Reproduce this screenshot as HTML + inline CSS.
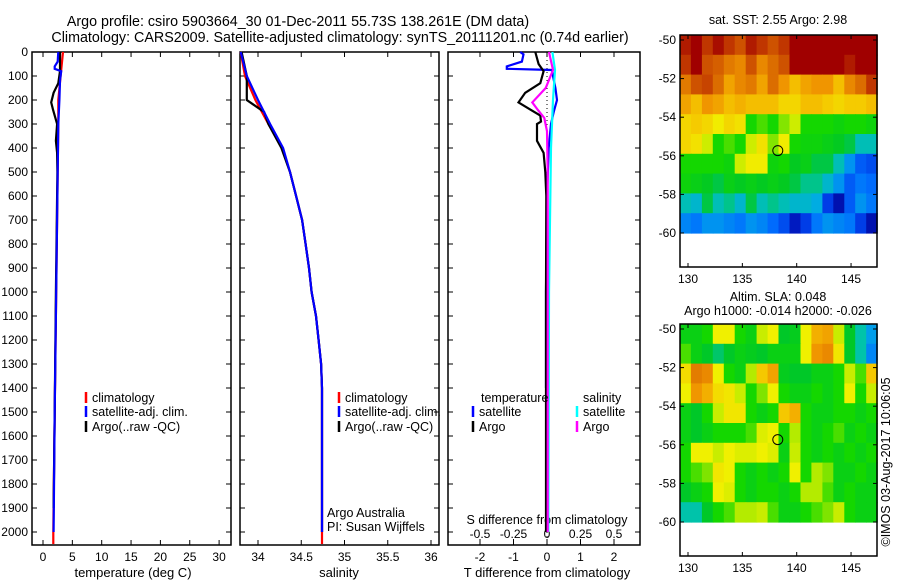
<!DOCTYPE html>
<html><head><meta charset="utf-8"><style>
body{margin:0;background:#fff;}
svg{display:block;font-family:"Liberation Sans",sans-serif;font-size:12px;}
.tt{font-size:14.3px;}
.at{font-size:13px;}
.lg{font-size:12.5px;}
</style></head><body>
<svg id="c" width="900" height="580" viewBox="0 0 900 580" xmlns="http://www.w3.org/2000/svg">
<rect width="900" height="580" fill="#fff"/>
<text class="tt" x="298" y="26" text-anchor="middle">Argo profile: csiro 5903664_30 01-Dec-2011 55.73S 138.261E (DM data)</text>
<text class="tt" x="340" y="42" text-anchor="middle">Climatology: CARS2009. Satellite-adjusted climatology: synTS_20111201.nc (0.74d earlier)</text>
<text class="lg" x="778" y="24" text-anchor="middle">sat. SST: 2.55 Argo: 2.98</text>
<text class="lg" x="778" y="301" text-anchor="middle">Altim. SLA: 0.048</text>
<text class="lg" x="778" y="315" text-anchor="middle">Argo h1000: -0.014 h2000: -0.026</text>
<text class="lg" transform="translate(890,462) rotate(-90)" text-anchor="middle">©IMOS 03-Aug-2017 10:06:05</text>
<g id="g"></g>
</svg>
<script>
// ---- data ----
const depthTicks=[0,100,200,300,400,500,600,700,800,900,1000,1100,1200,1300,1400,1500,1600,1700,1800,1900,2000];
const tempTicks=[0,5,10,15,20,25,30];
const salTicks=[34,34.5,35,35.5,36];
const tdTicks=[-2,-1,0,1,2];
const sdTicks=[-0.5,-0.25,0,0.25,0.5];
const tClimD=[0,100,200,300,500,1000,1500,2000,2050];
const tClimV=[3.4,3.0,2.6,2.6,2.5,2.25,2.0,1.75,1.75];
const tSatD=[0,40,60,70,80,120,200,300,500,1000,1500,2000];
const tSatV=[2.6,2.5,2.0,2.0,3.1,2.9,2.8,2.6,2.5,2.25,2.0,1.8];
const tArgoD=[0,80,130,170,210,240,300,370,420,500,1000,1500,1900];
const tArgoV=[2.9,2.9,2.6,1.8,1.4,1.7,2.4,2.2,2.4,2.45,2.2,2.0,1.8];
const sClimD=[0,100,200,300,400,500,600,700,800,900,1000,1100,1200,1300,1400,2050];
const sClimV=[33.8,33.85,33.97,34.12,34.28,34.37,34.44,34.51,34.55,34.59,34.62,34.67,34.7,34.73,34.74,34.74];
const sSatD=[0,100,200,300,400,500,600,700,800,900,1000,1100,1200,1300,1400,2000];
const sSatV=[33.8,33.87,34.0,34.14,34.29,34.37,34.44,34.51,34.55,34.59,34.62,34.67,34.7,34.73,34.74,34.74];
const sArgoD=[0,100,200,220,250,300,400,500,600,700,800,900,1000,1100,1200,1300,1400,2000];
const sArgoV=[33.81,33.87,33.87,33.95,34.07,34.12,34.27,34.37,34.44,34.51,34.55,34.59,34.62,34.67,34.7,34.73,34.74,34.74];
const dTSatD=[0,10,40,60,70,75,100,150,200,250,300,400,600,1000,1400];
const dTSatV=[-0.8,-0.7,-0.75,-1.2,-1.2,0.15,0.18,0.25,0.3,0.2,0.12,0.05,0.0,-0.03,-0.03];
const dTArgoD=[0,50,80,130,170,210,240,265,290,300,370,420,500,600,1000,2000];
const dTArgoV=[-0.35,-0.25,-0.1,-0.2,-0.65,-0.85,-0.5,-0.2,-0.18,-0.3,-0.3,-0.1,-0.05,-0.02,-0.03,-0.03];
const dSArgoD=[0,75,150,210,240,275,330,500,2000];
const dSArgoV=[0.015,0.045,-0.01,-0.11,-0.07,-0.02,0.0,0.005,0.005];
const dSSatD=[0,75,200,400,1000,2000];
const dSSatV=[0.04,0.06,0.045,0.03,0.015,0.01];
const latTicks=[-50,-52,-54,-56,-58,-60];
const lonTicks=[130,135,140,145];
const sst=[
[5.2,5.4,5.0,5.3,5.0,4.8,5.2,5.0,4.8,5.0,5.8,5.9,5.9,5.9,5.8,5.8,5.6,5.8],
[5.0,5.4,4.8,4.7,4.5,4.4,4.8,4.4,4.6,4.8,5.4,5.7,5.8,5.7,5.4,5.2,5.5,5.8],
[4.5,4.8,4.9,4.6,4.2,4.4,4.5,4.2,4.6,4.3,4.0,4.2,4.3,4.3,4.0,4.4,4.6,5.0],
[4.2,4.0,4.3,4.2,4.0,4.1,4.0,4.0,4.0,3.8,3.8,4.0,4.0,3.9,3.8,3.9,3.9,4.0],
[3.8,3.9,3.8,3.6,3.8,3.7,3.0,3.1,3.0,3.2,3.4,3.0,3.0,3.0,2.9,3.0,3.0,2.9],
[3.8,3.7,3.4,3.0,3.1,3.0,3.4,3.7,3.2,3.6,3.0,2.9,2.9,2.8,2.7,2.6,2.4,2.4],
[3.0,3.0,3.0,3.0,2.9,3.4,3.6,3.6,2.9,3.0,2.7,2.8,2.6,2.6,2.4,2.0,1.6,1.5],
[2.9,2.8,2.7,2.6,2.8,2.7,2.8,2.7,2.8,2.7,2.6,2.5,2.5,2.3,2.0,1.6,1.8,1.7],
[2.4,2.3,2.6,2.4,2.5,2.3,2.6,2.4,2.5,2.4,2.3,2.3,2.2,1.4,1.0,1.6,2.0,1.8],
[1.9,1.8,2.0,2.0,1.9,1.8,2.0,1.9,1.7,1.5,1.1,1.4,1.8,2.0,1.9,1.8,1.4,1.0]];
const sla=[
[0.0,0.0,0.02,0.08,0.08,0.02,0.0,0.06,0.08,-0.02,-0.01,0.08,0.14,0.15,0.06,-0.02,-0.04,-0.08],
[0.03,0.0,-0.02,-0.03,-0.02,0.0,-0.01,-0.02,0.0,0.0,0.0,0.08,0.16,0.17,0.09,-0.02,-0.04,-0.1],
[0.1,0.18,0.17,0.08,0.02,0.0,0.05,0.12,0.15,-0.01,-0.02,-0.02,0.0,0.0,0.02,0.06,0.03,0.12],
[0.08,0.16,0.14,0.1,0.09,0.06,0.02,0.04,0.08,0.02,0.0,0.0,0.02,0.0,0.02,0.08,0.02,0.06],
[0.0,-0.02,0.02,0.06,0.09,0.09,0.02,0.0,0.02,0.12,0.14,0.02,0.0,0.0,0.02,0.02,0.0,0.02],
[0.0,-0.02,0.0,0.02,0.02,0.02,0.03,0.07,0.08,0.02,0.05,0.02,0.0,0.02,0.03,0.0,0.02,0.0],
[0.02,0.08,0.08,0.06,0.08,0.07,0.07,0.08,0.07,0.0,0.06,0.02,0.0,0.02,0.0,0.02,0.0,0.02],
[0.02,0.03,0.04,0.09,0.08,0.02,0.0,0.02,0.0,0.02,0.08,0.02,0.05,0.04,0.0,0.0,0.02,0.0],
[-0.02,0.0,0.02,0.08,0.07,0.02,0.0,0.02,0.02,0.0,0.02,0.05,0.05,0.03,0.0,0.02,0.0,0.0],
[-0.04,-0.04,-0.02,0.02,0.03,0.05,0.05,0.06,0.03,0.0,0.0,0.02,0.03,0.04,0.06,0.02,0.0,0.0]];
const argoLon=138.26, argoLat=-55.73;

// ---- helpers ----
const NS='http://www.w3.org/2000/svg';
const G=document.getElementById('g');
function el(t,a,p){const e=document.createElementNS(NS,t);for(const k in a)e.setAttribute(k,a[k]);(p||G).appendChild(e);return e;}
function txt(x,y,s,anchor,p,cls){const e=el('text',{x:x,y:y,'text-anchor':anchor||'middle'},p);if(cls)e.setAttribute('class',cls);e.textContent=s;return e;}
const Y0=52,Y1=545;
const yD=d=>Y0+d*0.24;
const xT=v=>43+v*5.87;
const xS=v=>258+(v-34)*86.5;
const xTD=v=>547+v*33.5;
const xSD=v=>547+v*134;

function panel(x0,x1,name){
  const r=el('rect',{x:x0,y:Y0,width:x1-x0,height:Y1-Y0,fill:'none',stroke:'#000','stroke-width':1.5});
  
  
  depthTicks.forEach(d=>{el('line',{x1:x0,x2:x0+5,y1:yD(d),y2:yD(d),stroke:'#000'});el('line',{x1:x1,x2:x1-5,y1:yD(d),y2:yD(d),stroke:'#000'});});
}
panel(32,231,'temperature-panel');
panel(240,439,'salinity-panel');
panel(448,640,'difference-panel');
depthTicks.forEach(d=>{const t=txt(28,yD(d)+4,String(d),'end');

});

tempTicks.forEach(v=>{const x=xT(v);el('line',{x1:x,x2:x,y1:Y1,y2:Y1-5,stroke:'#000'});el('line',{x1:x,x2:x,y1:Y0,y2:Y0+5,stroke:'#000'});const t=txt(x,561,String(v));

});
salTicks.forEach(v=>{const x=xS(v);el('line',{x1:x,x2:x,y1:Y1,y2:Y1-5,stroke:'#000'});el('line',{x1:x,x2:x,y1:Y0,y2:Y0+5,stroke:'#000'});const t=txt(x,561,String(v));

});
tdTicks.forEach(v=>{const x=xTD(v);el('line',{x1:x,x2:x,y1:Y1,y2:Y1-5,stroke:'#000'});el('line',{x1:x,x2:x,y1:Y0,y2:Y0+5,stroke:'#000'});const t=txt(x,561,String(v));

});
sdTicks.forEach(v=>{const x=xSD(v);el('line',{x1:x,x2:x,y1:539,y2:544,stroke:'#000'});const t=txt(x,538,String(v));

});
let t;
t=txt(133,577,'temperature (deg C)',null,null,'at');


t=txt(339,577,'salinity',null,null,'at');


t=txt(547,577,'T difference from climatology',null,null,'at');


t=txt(547,524,'S difference from climatology',null,null,'lg');


t=txt(327,517,'Argo Australia','start',null,'lg');


t=txt(327,531,'PI: Susan Wijffels','start',null,'lg');



el('line',{x1:547,x2:547,y1:Y0,y2:Y1,stroke:'#000','stroke-dasharray':'1,3'});

function prof(D,V,sx,color,name){
  const pts=D.map((d,i)=>sx(V[i]).toFixed(1)+','+yD(Math.min(d,2054)).toFixed(1)).join(' ');
  const p=el('polyline',{points:pts,fill:'none',stroke:color,'stroke-width':2.2});
  
  
}
prof(tClimD,tClimV,xT,'#f00','temp-climatology-line');
prof(tArgoD,tArgoV,xT,'#000','temp-argo-line');
prof(tSatD,tSatV,xT,'#00f','temp-satellite-line');
prof(sClimD,sClimV,xS,'#f00','sal-climatology-line');
prof(sArgoD,sArgoV,xS,'#000','sal-argo-line');
prof(sSatD,sSatV,xS,'#00f','sal-satellite-line');
prof(dTSatD,dTSatV,xTD,'#00f','tdiff-satellite-line');
prof(dSSatD,dSSatV,xSD,'#0ff','sdiff-satellite-line');
prof(dTArgoD,dTArgoV,xTD,'#000','tdiff-argo-line');
prof(dSArgoD,dSArgoV,xSD,'#f0f','sdiff-argo-line');

function leg(x,y,color,label,name){
  el('line',{x1:x,x2:x,y1:y-10,y2:y+1,stroke:color,'stroke-width':2.5});
  const t=txt(x+6,y,label,'start',null,'lg');
  
  
}
leg(86,402,'#f00','climatology','legend-climatology');
leg(86,416,'#00f','satellite-adj. clim.','legend-satellite-adj');
leg(86,431,'#000','Argo(..raw -QC)','legend-argo');
leg(339,402,'#f00','climatology','legend2-climatology');
leg(339,416,'#00f','satellite-adj. clim.','legend2-satellite-adj');
leg(339,431,'#000','Argo(..raw -QC)','legend2-argo');
t=txt(481,402,'temperature','start',null,'lg');


t=txt(583,402,'salinity','start',null,'lg');


leg(473,416,'#00f','satellite','legend-t-satellite');
leg(473,431,'#000','Argo','legend-t-argo');
leg(577,416,'#0ff','satellite','legend-s-satellite');
leg(577,431,'#f0f','Argo','legend-s-argo');

// colormap
const stops=[[0,0,0,140],[0.1,0,40,220],[0.2,0,110,255],[0.3,0,170,230],[0.36,0,195,170],[0.4,0,200,40],[0.48,20,215,0],[0.54,180,235,0],[0.6,240,240,0],[0.68,245,200,0],[0.76,240,150,0],[0.84,215,100,0],[0.92,190,50,0],[1,160,0,0]];
function cmap(v){v=Math.max(0,Math.min(1,v));for(let i=1;i<stops.length;i++){if(v<=stops[i][0]){const a=stops[i-1],b=stops[i],f=(v-a[0])/(b[0]-a[0]);return 'rgb('+[1,2,3].map(k=>Math.round(a[k]+f*(b[k]-a[k]))).join(',')+')';}}return 'rgb(160,0,0)';}

function map(top,grid,vmin,vmax,name){
  const X0=680,X1=877,B=top+232;
  const lx=lon=>688+(lon-130)*10.87;
  const ly=lat=>top+5+(-50-lat)*19.3;
  const gg=el('g',{});
  
  
  const nr=grid.length,nc=grid[0].length;
  const lon0=129.26,dlon=(147.4-129.26)/nc;
  const lat0=-49.74,dlat=(60-49.74)/nr;
  for(let j=0;j<nr;j++)for(let i=0;i<nc;i++){
    const xa=lx(lon0+i*dlon),xb=lx(lon0+(i+1)*dlon),ya=ly(lat0-j*dlat),yb=ly(lat0-(j+1)*dlat);
    const c=el('rect',{x:xa.toFixed(1),y:ya.toFixed(1),width:(xb-xa+0.6).toFixed(1),height:(yb-ya+0.6).toFixed(1),fill:cmap((grid[j][i]-vmin)/(vmax-vmin))},gg);
    
    
  }
  el('rect',{x:X0,y:top,width:X1-X0,height:B-top,fill:'none',stroke:'#000','stroke-width':1.5});
  latTicks.forEach(l=>{const y=ly(l);el('line',{x1:X0,x2:X0+4,y1:y,y2:y,stroke:'#000'});el('line',{x1:X1,x2:X1-4,y1:y,y2:y,stroke:'#000'});const t=txt(X0-4,y+4,String(l),'end');
    
    });
  lonTicks.forEach(l=>{const x=lx(l);el('line',{x1:x,x2:x,y1:B,y2:B-4,stroke:'#000'});el('line',{x1:x,x2:x,y1:top,y2:top+4,stroke:'#000'});const t=txt(x,B+16,String(l));
    
    });
  const m=el('circle',{cx:lx(argoLon),cy:ly(argoLat),r:5,fill:'none',stroke:'#000','stroke-width':1});
  
  
}
map(35,sst,0.8,5.4,'sst-map');
map(324,sla,-0.22,0.28,'sla-map');
</script>
</body></html>
